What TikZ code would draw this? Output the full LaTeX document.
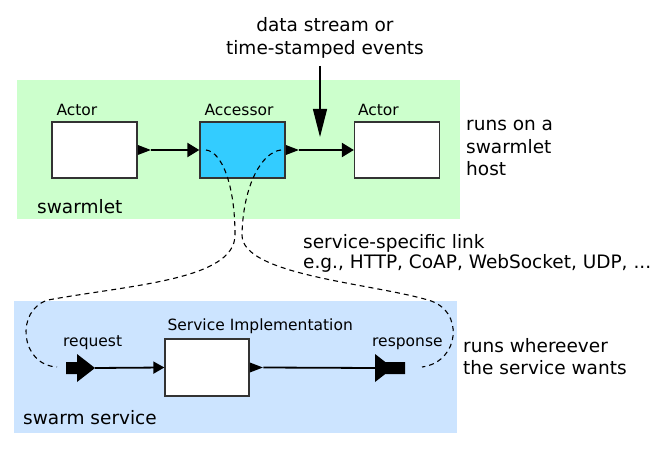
\documentclass[tikz,border=0pt]{standalone}
\usepackage{fontspec}
\setmainfont{DejaVu Sans}
\usepackage{tikz}
\usetikzlibrary{shapes.geometric, arrows.meta}
\definecolor{hostgreen}{RGB}{204,255,204}
\definecolor{serviceblue}{RGB}{204,228,255}
\definecolor{accessorcyan}{RGB}{51,204,255}
\tikzstyle{region} = [rectangle, inner sep = 0pt]
\tikzstyle{actor} = [rectangle, draw = black!80, line width = 1.3pt, fill = white, minimum width = 85pt, minimum height = 56pt, inner sep = 0pt]
\tikzstyle{accessor} = [actor, fill = accessorcyan]
\tikzstyle{boxlabel} = [font = \fontsize{15.5}{18}\selectfont, inner sep = 0pt, anchor = base west]
\tikzstyle{note} = [font = \fontsize{18.5}{22}\selectfont, align = left, anchor = west, inner sep = 0pt]
\tikzstyle{outport} = [isosceles triangle, isosceles triangle stretches, fill = black, minimum width = 10pt, minimum height = 13pt, inner sep = 0pt, anchor = west]
\tikzstyle{line2} = [draw, line width = 2.2pt, -{Triangle[length = 12pt, width = 14pt]}]
\tikzstyle{line3} = [draw, line width = 1.8pt, -{Triangle[length = 11pt, width = 12pt]}]
\tikzstyle{line4} = [draw, line width = 1.2pt, -{Triangle[length = 28pt, width = 14pt]}]
\tikzstyle{link} = [draw, line width = 1.1pt, dash pattern = on 5pt off 4pt]

\begin{document}
\begin{tikzpicture}[x = 1pt, y = -1pt]
			\useasboundingbox (0, 0) rectangle (664, 457);
			% Regions
			\node [region, fill = hostgreen, minimum width = 443pt, minimum height = 139pt] (host) at (238.5, 149.5) {};
			\node [region, fill = serviceblue, minimum width = 443pt, minimum height = 132pt] (service) at (235.5, 367) {};
			
			% Place nodes
			\node [actor] (actorA) at (94.5, 150) {};
			\node [accessor] (acc) at (242.5, 150) {};
			\node [actor] (actorB) at (397, 150) {};
			\node [actor, minimum width = 84pt, minimum height = 57pt] (impl) at (207, 367.5) {};
			
			\node [boxlabel] (actorAlabel) at ([xshift = 5pt, yshift = 6pt] actorA.north west) {Actor};
			\node [boxlabel] (acclabel) at ([xshift = 5pt, yshift = 6pt] acc.north west) {Accessor};
			\node [boxlabel] (actorBlabel) at ([xshift = 4pt, yshift = 6pt] actorB.north west) {Actor};
			\node [boxlabel] (impllabel) at ([xshift = 3pt, yshift = 8pt] impl.north west) {Service Implementation};
			\node [boxlabel] (reqlabel) at (63, 346) {request};
			\node [boxlabel] (resplabel) at (372, 346) {response};
			
			\node [outport] (aout) at (actorA.east) {};
			\node [outport] (accout) at (acc.east) {};
			\node [outport] (implout) at (impl.east) {};
			
			% Texts
			\node [note, align = center, anchor = center, font = \fontsize{18.5}{23}\selectfont] (events) at (325, 37.5) {data stream or\\time-stamped events};
			\node [note, font = \fontsize{18.5}{22.5}\selectfont] (hostnote) at (466, 148) {runs on a\\swarmlet\\host};
			\node [note] (swarmletname) at (37, 206.5) {swarmlet};
			\node [note, font = \fontsize{18.5}{20}\selectfont] (linknote) at (303, 253) {service-specific link\\e.g., HTTP, CoAP, WebSocket, UDP, ...};
			\node [note] (servicenote) at (463, 357) {runs whereever\\the service wants};
			\node [note] (servicename) at (23, 418) {swarm service};
			
			% Request and response ports
			\coordinate (req) at (66, 368);
			\coordinate (reqtip) at (95, 368);
			\coordinate (resp) at (375, 368);
			\fill (req) ++(0, -6) -- ++(11, 0) -- ++(0, -8) -- (reqtip) -- ++(-18, 14) -- ++(0, -8) -- ++(-11, 0) -- cycle;
			\fill (resp) ++(0, -14) -- ++(10.3, 8) -- ++(19.7, 0) -- ++(0, 12) -- ++(-19.7, 0) -- ++(-10.3, 8) -- cycle;
			
			\coordinate (evstart) at (320, 66);
			\coordinate (evtip) at (320, 137);
			\coordinate (accinL) at (206, 150);
			\coordinate (accinR) at (281, 150);
			\coordinate (reqend) at (57, 367);
			\coordinate (respend) at (422, 367);
			
			% Draw edges
			\path [line2] (aout.apex) -- (acc.west);
			\path [line2] (accout.apex) -- (actorB.west);
			\path [line4] (evstart) -- (evtip);
			\path [line3] (reqtip) -- (impl.west);
			\path [draw, line width = 1.8pt] (implout.apex) -- (resp);
			\path [link] (accinL) .. controls (222, 152) and (235, 185) .. (235, 235) .. controls (235, 280) and (130, 285) .. (48, 300) .. controls (15, 310) and (20, 365) .. (reqend);
			\path [link] (accinR) .. controls (262, 152) and (243, 185) .. (242, 235) .. controls (242, 275) and (370, 283) .. (428, 300) .. controls (465, 310) and (460, 362) .. (respend);
		\end{tikzpicture}
\end{document}
